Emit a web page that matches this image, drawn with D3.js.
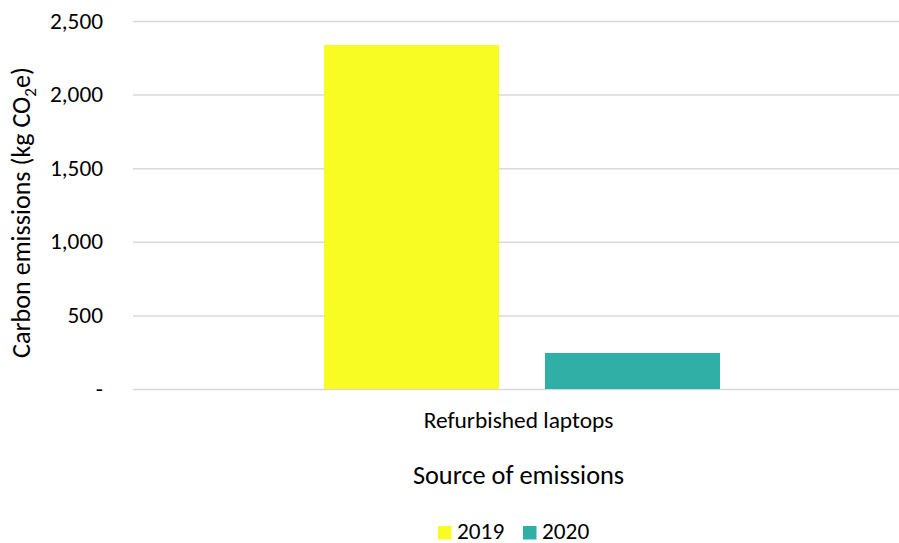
<!DOCTYPE html>
<html><head><meta charset="utf-8">
<script src="https://cdn.jsdelivr.net/npm/d3@7"></script>
<style>body{margin:0;background:#fff;} text{font-family:Carlito,"Open Sans",sans-serif;fill:#000;}</style>
</head><body><svg id="c" width="899" height="543"></svg>
<script>
const categories = ["Refurbished laptops"];
const seriesNames = ["2019", "2020"];
const values2019 = [2337];
const values2020 = [245];
const seriesColors = ["#F9FC22", "#2FAFA6"];
const yTicks = [0, 500, 1000, 1500, 2000, 2500];
const yTickLabels = ["-", "500", "1,000", "1,500", "2,000", "2,500"];

const FONT = 'Carlito,"Open Sans",sans-serif';
const svg = d3.select("#c");
const plotLeft = 133, plotRight = 899, plotTop = 21, plotBottom = 389;
const y = d3.scaleLinear().domain([0, 2500]).range([plotBottom, plotTop]);
const x0 = d3.scaleBand().domain(categories).range([plotLeft, 911]);
const x1 = d3.scaleBand().domain(seriesNames).paddingInner(0.208);

// gridlines
const grid = d3.axisLeft(y).tickValues(yTicks).tickSize(-(plotRight - plotLeft)).tickFormat("");
const gg = svg.append("g").attr("transform", `translate(${plotLeft},0)`).call(grid);
gg.select(".domain").remove();
gg.selectAll("line").attr("stroke", "#D9D9D9").attr("stroke-width", 1.5);

// tick labels
const yl = d3.axisLeft(y).tickValues(yTicks).tickSize(0).tickPadding(0)
  .tickFormat((d, i) => yTickLabels[i]);
const ylg = svg.append("g").attr("transform", "translate(103,0)").call(yl);
ylg.select(".domain").remove();
ylg.selectAll("text").attr("font-size", 23.3).attr("font-family", FONT).attr("fill", "#000")
  .attr("dy", "0.3em");

// bars
const data = categories.map((c, i) => ({cat: c, vals: [values2019[i], values2020[i]]}));
data.forEach(d => {
  const cx = x0(d.cat) + x0.bandwidth() / 2;
  x1.range([cx - 198, cx + 198]);
  svg.append("g").selectAll("rect").data(d.vals).join("rect")
    .attr("x", (v, i) => x1(seriesNames[i]))
    .attr("width", x1.bandwidth())
    .attr("y", v => y(v))
    .attr("height", v => y(0) - y(v))
    .attr("fill", (v, i) => seriesColors[i]);
});

// x labels
svg.append("text").attr("x", 518.5).attr("y", 427.5).attr("text-anchor", "middle")
  .attr("font-size", 23.4).text(categories[0]);
svg.append("text").attr("x", 518.5).attr("y", 483.5).attr("text-anchor", "middle")
  .attr("font-size", 26.3).text("Source of emissions");

// y title
const yt = svg.append("text").attr("transform", "translate(30,212.5) rotate(-90)")
  .attr("text-anchor", "middle").attr("font-size", 26.1);
yt.append("tspan").text("Carbon emissions (kg CO");
yt.append("tspan").attr("font-size", 17).attr("dy", 6).text("2");
yt.append("tspan").attr("dy", -6).text("e)");

// legend
const leg = svg.append("g");
const legX = [438, 523];
seriesNames.forEach((s, i) => {
  leg.append("rect").attr("x", legX[i]).attr("y", 526).attr("width", 13.5).attr("height", 13.5).attr("fill", seriesColors[i]);
  leg.append("text").attr("x", legX[i] + 19).attr("y", 538.5).attr("font-size", 23.3).text(s);
});
</script></body></html>
